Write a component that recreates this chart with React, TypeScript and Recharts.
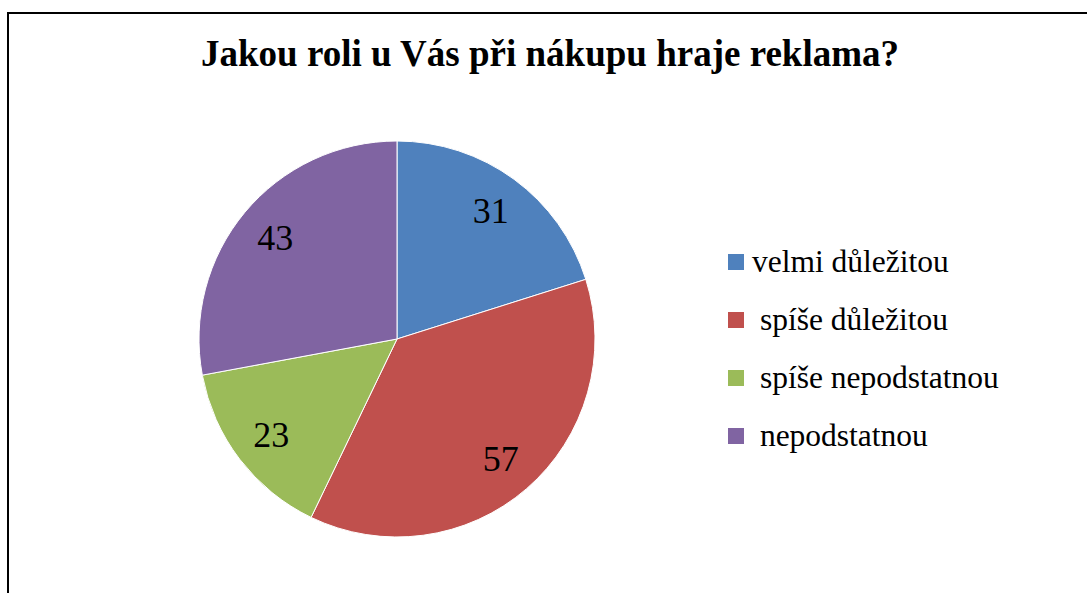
import React from "react";
import { PieChart, Pie, Cell, Legend } from "recharts";

const title = "Jakou roli u Vás při nákupu hraje reklama?";
const categories = ["velmi důležitou", " spíše důležitou", " spíše nepodstatnou", " nepodstatnou"];
const values = [31, 57, 23, 43];
const colors = ["#4F81BD", "#C0504D", "#9BBB59", "#8064A2"];

const data = categories.map((name, i) => ({ name, value: values[i] }));

const FONT = "'Liberation Serif', 'Times New Roman', Times, serif";
const RADIAN = Math.PI / 180;

const renderLabel = (props: any) => {
  const { cx, cy, midAngle, outerRadius, value } = props;
  const r = outerRadius * 0.8;
  const x = cx + r * Math.cos(-midAngle * RADIAN);
  const y = cy + r * Math.sin(-midAngle * RADIAN);
  return (
    <text
      x={x}
      y={y}
      textAnchor="middle"
      dominantBaseline="central"
      fontFamily={FONT}
      fontSize={36}
      fill="#000"
    >
      {value}
    </text>
  );
};

const renderLegend = () => (
  <div style={{ fontFamily: FONT, fontSize: 31.5, color: "#000" }}>
    {categories.map((name, i) => (
      <div key={i} style={{ display: "flex", alignItems: "center", height: 58 }}>
        <div style={{ width: 16, height: 16, background: colors[i], marginRight: 8, flex: "none" }} />
        <span style={{ whiteSpace: "pre", lineHeight: "32px" }}>{name}</span>
      </div>
    ))}
  </div>
);

export default function App() {
  return (
    <div
      style={{
        position: "fixed",
        left: 0,
        top: 0,
        width: 1087,
        height: 593,
        overflow: "hidden",
        background: "#fff",
      }}
    >
      <div
        style={{
          position: "absolute",
          left: 7,
          top: 12,
          width: 1200,
          height: 800,
          border: "2px solid #000",
          boxSizing: "border-box",
        }}
      />
      <div
        style={{
          position: "absolute",
          left: 0,
          top: 36.2,
          width: 1100,
          textAlign: "center",
          fontFamily: FONT,
          fontWeight: "bold",
          fontSize: 37,
          lineHeight: "36px",
          color: "#000",
          whiteSpace: "nowrap",
        }}
      >
        {title}
      </div>
      <div style={{ position: "absolute", left: 0, top: 0 }}>
        <PieChart width={1087} height={593} margin={{ top: 0, right: 0, bottom: 0, left: 0 }}>
          <Pie
            data={data}
            dataKey="value"
            nameKey="name"
            cx={397}
            cy={339}
            outerRadius={198}
            startAngle={90}
            endAngle={-270}
            stroke="#fff"
            strokeWidth={1}
            label={renderLabel}
            labelLine={false}
            isAnimationActive={false}
          >
            {data.map((d, i) => (
              <Cell key={i} fill={colors[i]} />
            ))}
          </Pie>
          <Legend
            content={renderLegend}
            wrapperStyle={{ position: "absolute", left: 728, top: 233, width: "auto" }}
          />
        </PieChart>
      </div>
    </div>
  );
}
